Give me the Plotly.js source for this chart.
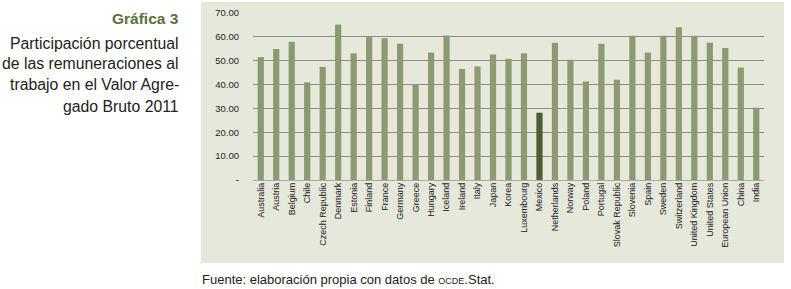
<!DOCTYPE html>
<html>
<head>
<meta charset="utf-8">
<script src="https://cdn.plot.ly/plotly-3.0.1.min.js"></script>
<style>html,body{margin:0;padding:0;background:#fff;}#chart{width:791px;height:289px;}</style>
</head>
<body>
<div id="chart"></div>
<script>
const countries = ["Australia","Austria","Belgium","Chile","Czech Republic","Denmark","Estonia","Finland","France","Germany","Greece","Hungary","Iceland","Ireland","Italy","Japan","Korea","Luxembourg","Mexico","Netherlands","Norway","Poland","Portugal","Slovak Republic","Slovenia","Spain","Sweden","Switzerland","United Kingdom","United States","European Union","China","India"];
const shares = [51.5,54.9,58.0,40.9,47.4,65.2,53.1,59.8,59.4,57.1,40.2,53.4,60.6,46.6,47.6,52.6,50.8,53.1,28.2,57.5,50.4,41.3,57.1,42.0,60.5,53.4,60.5,64.0,60.5,57.5,55.3,47.1,30.3];
const yTickVals = [0,10,20,30,40,50,60,70];
const yTickText = ["-","10.00","20.00","30.00","40.00","50.00","60.00","70.00"];
const highlight = "Mexico";

const W = 791, H = 289;
const L = 253, R = 764, T = 13, B = 180;
const px = x => (x - L) / (R - L);
const py = y => (B - y) / (B - T);

const colors = countries.map(c => c === highlight ? "#4b5f33" : "#8b9a70");
const font = "Liberation Sans, Arial, Helvetica, sans-serif";

const trace = {
  type: "bar",
  x: countries,
  y: shares,
  marker: {color: colors, line: {width: 0}},
  hoverinfo: "x+y"
};

const subLines = ["Participación porcentual","de las remuneraciones al","trabajo en el Valor Agre-","gado Bruto 2011"];
const annotations = [
  {xref:"paper", yref:"paper", x: px(181), y: py(18), xanchor:"right", yanchor:"middle", showarrow:false,
   text:"<b>Gráfica 3</b>", font:{family:font, size:15.5, color:"#5a7040"}},
  ...subLines.map((t,i)=>({xref:"paper", yref:"paper", x: px(181), y: py(43 + i*21), xanchor:"right", yanchor:"middle", showarrow:false,
   text:t, font:{family:font, size:15.8, color:"#222"}})),
  {xref:"paper", yref:"paper", x: px(200), y: py(279), xanchor:"left", yanchor:"middle", showarrow:false,
   text:'Fuente: elaboración propia con datos de <span style="font-size:9px">OCDE</span>.Stat.', font:{family:font, size:13, color:"#222"}}
];

const layout = {
  width: W, height: H,
  margin: {l: L, r: W - R, t: T, b: H - B, pad: 0},
  paper_bgcolor: "#ffffff",
  plot_bgcolor: "rgba(0,0,0,0)",
  bargap: 0.6,
  showlegend: false,
  shapes: [{type:"rect", xref:"paper", yref:"paper", x0: px(201), x1: px(784), y0: py(263), y1: py(2),
            fillcolor:"#e6e8dc", line:{width:0}, layer:"below"}],
  xaxis: {
    type: "category",
    tickangle: -90,
    tickfont: {family: font, size: 9, color: "#222"},
    showgrid: false,
    showline: false,
    ticks: "",
    fixedrange: true
  },
  yaxis: {
    range: [0, 70],
    tickvals: yTickVals,
    ticktext: yTickText,
    tickfont: {family: font, size: 9.5, color: "#222"},
    showgrid: true,
    gridcolor: "#8c8c8c",
    gridwidth: 1,
    zeroline: true,
    zerolinecolor: "#a8a8a8",
    zerolinewidth: 1,
    showline: false,
    ticks: "",
    ticklabelstandoff: 13,
    fixedrange: true
  },
  annotations: annotations
};

Plotly.newPlot("chart", [trace], layout, {displayModeBar: false, staticPlot: true});
</script>
</body>
</html>
